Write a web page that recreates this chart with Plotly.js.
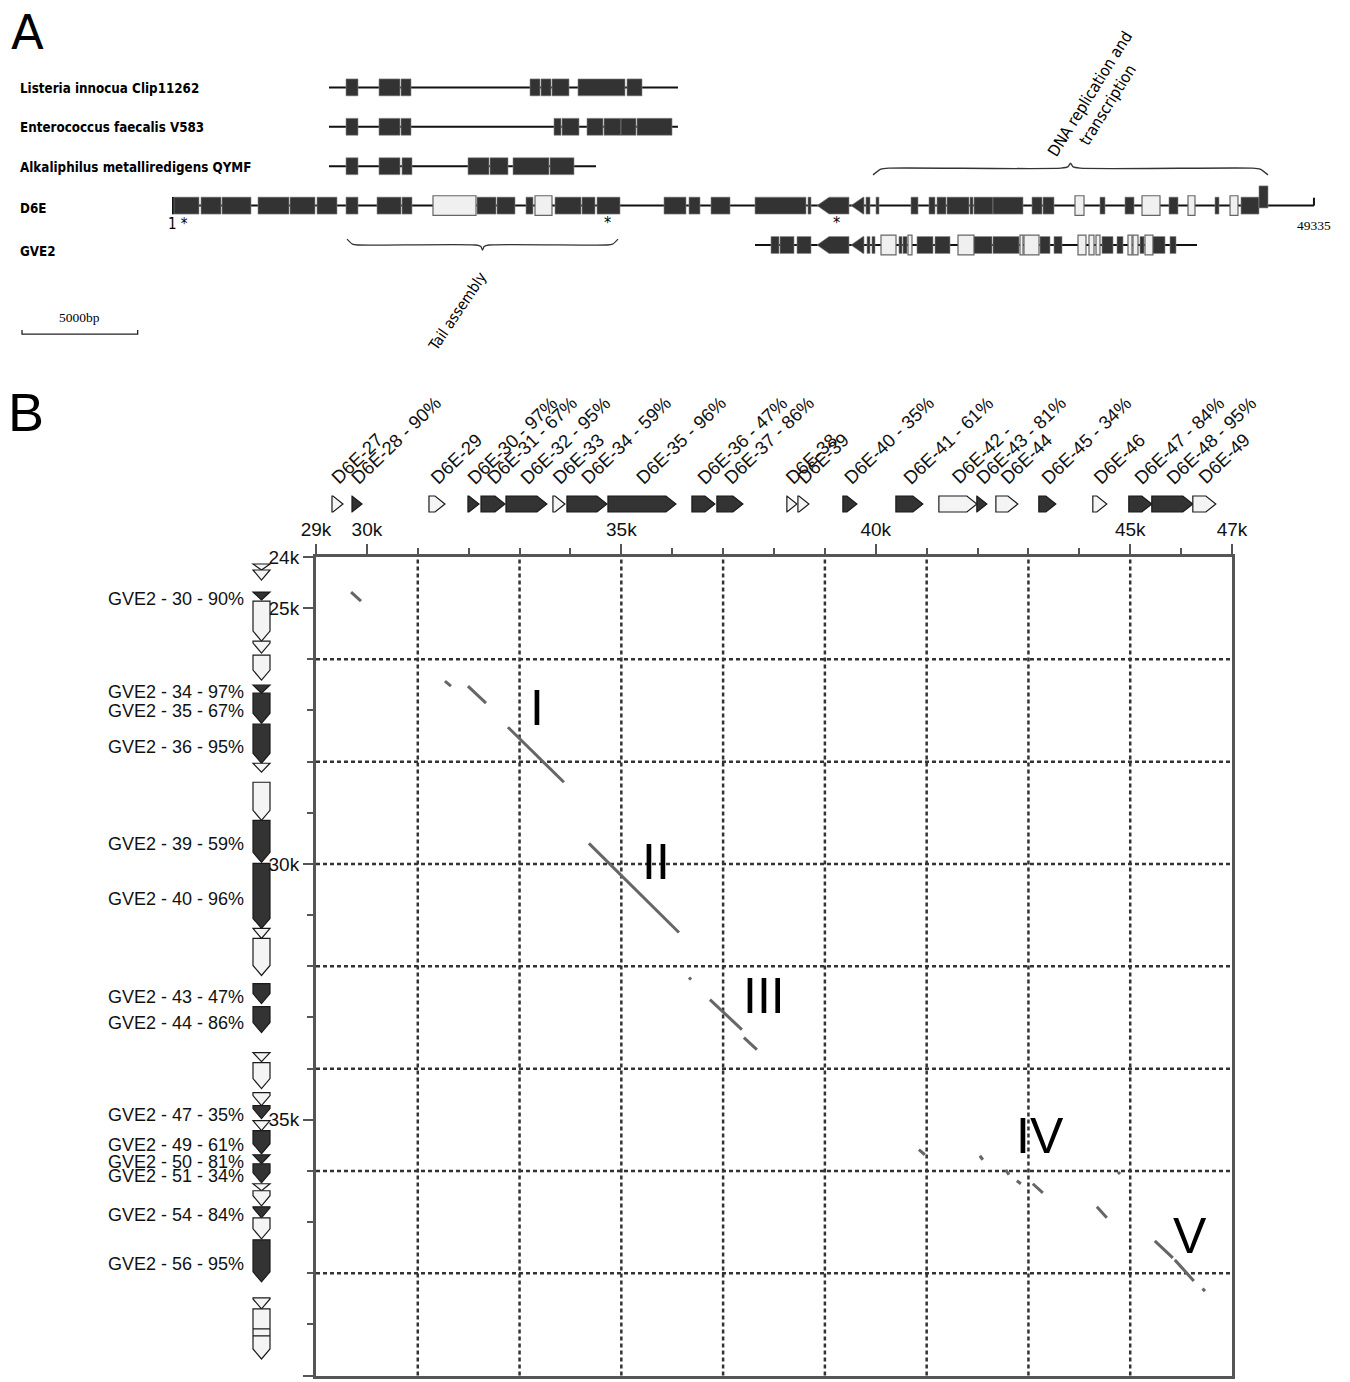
<!DOCTYPE html>
<html><head><meta charset="utf-8">
<script src="https://cdn.plot.ly/plotly-3.0.1.min.js"></script>
<style>html,body{margin:0;padding:0;background:#fff}</style>
</head><body><div id="chart" style="width:1350px;height:1382px"></div>
<script>
// ================= PANEL A DATA (bp along the D6E-scaled map) =================
const rowNames = ['Listeria innocua Clip11262', 'Enterococcus faecalis V583', 'Alkaliphilus metalliredigens QYMF', 'D6E', 'GVE2'];
const rowLineStart = [6745, 6745, 6745, 1, 25166];
const rowLineEnd = [21836, 21836, 18291, 49335, 44278];
const d6eLength = 49335;

const listeriaStart = [7481, 8907, 9859, 15437, 15912, 16388, 17512, 19631];
const listeriaEnd   = [8000, 9815, 10291, 15869, 16345, 17123, 19544, 20280];

const enteroStart = [7481, 8907, 9859, 16474, 16820, 17901, 18636, 19372, 20063];
const enteroEnd   = [8000, 9815, 10291, 16777, 17555, 18593, 19372, 20020, 21577];

const alkaStart = [7481, 8907, 9902, 12756, 13707, 14702, 16301];
const alkaEnd   = [8000, 9815, 10334, 13664, 14485, 16258, 17339];

// kinds: d = homologous block, w = unique (white), L = leftward ORF, T = tall block
const mapD6EStart = [43, 1211, 2119, 3675, 5059, 6227, 7481, 8821, 9902, 11242, 13145, 14010, 15264, 15653, 16518, 17685, 18334, 21231, 22312, 23263, 25166, 27457, 27847, 29317, 29965, 30398, 31911, 32689, 33035, 33468, 34462, 34635, 35457, 37143, 37619, 39002, 40083, 41164, 41900, 43067, 43889, 45056, 45706, 46180, 46958];
const mapD6EEnd   = [1124, 2076, 3373, 5016, 6140, 7091, 8000, 9859, 10334, 13102, 13967, 14788, 15566, 16388, 17642, 18247, 19328, 22182, 22787, 24085, 27371, 27587, 29230, 29879, 30138, 30527, 32214, 32949, 33425, 34419, 34592, 35457, 36754, 37576, 38094, 39392, 40300, 41554, 42678, 43456, 44191, 45229, 46050, 46958, 47348];
const mapD6EKind  = ['d','d','d','d','d','d','d','d','d','w','d','d','d','w','d','d','d','d','d','d','d','d','L','L','d','d','d','d','d','d','d','d','d','d','d','w','d','d','w','d','w','d','w','d','T'];

const mapGVEStart = [25858, 26247, 26982, 27847, 29317, 30010, 30225, 30614, 31392, 31565, 31781, 32170, 32949, 33943, 34635, 35457, 36624, 36797, 37489, 38094, 39132, 39608, 39911, 40170, 40819, 41294, 41510, 41813, 42029, 42374, 43110];
const mapGVEEnd   = [26203, 26852, 27587, 29230, 29879, 30138, 30355, 31263, 31522, 31738, 31954, 32862, 33597, 34635, 35413, 36581, 36754, 37446, 37922, 38440, 39478, 39824, 40083, 40646, 41078, 41467, 41727, 41986, 42374, 42894, 43370];
const mapGVEKind  = ['d','d','d','L','L','d','d','w','d','d','w','d','d','w','d','d','w','w','d','d','w','w','w','d','d','w','w','d','w','d','d'];

const braceStart = [7524, 30268];
const braceEnd   = [19242, 47348];
const braceText  = ['Tail assembly', 'DNA replication and<br>transcription'];
const asteriskPos = [18766, 28668];
const scaleBarBp = 5000;

// ================= PANEL B DATA =================
const d6eGeneStart = [29314, 29707, 31220, 31986, 32242, 32733, 33656, 33931, 34737, 36387, 36878, 38253, 38470, 39354, 40395, 41240, 41986, 42360, 43204, 44265, 44972, 45424, 46230];
const d6eGeneEnd   = [29530, 29904, 31534, 32202, 32713, 33538, 33892, 34717, 36073, 36839, 37389, 38450, 38686, 39629, 40925, 41986, 42183, 42792, 43538, 44540, 45424, 46230, 46682];
const d6eGeneLabel = ['D6E-27', 'D6E-28 - 90%', 'D6E-29', 'D6E-30 - 97%', 'D6E-31 - 67%', 'D6E-32 - 95%', 'D6E-33', 'D6E-34 - 59%', 'D6E-35 - 96%', 'D6E-36 - 47%', 'D6E-37 - 86%', 'D6E-38', 'D6E-39', 'D6E-40 - 35%', 'D6E-41 - 61%', 'D6E-42 -', 'D6E-43 - 81%', 'D6E-44', 'D6E-45 - 34%', 'D6E-46', 'D6E-47 - 84%', 'D6E-48 - 95%', 'D6E-49'];

const gveGeneStart = [24137, 24254, 24685, 24861, 25644, 25918, 26505, 26661, 27268, 28031, 28403, 29147, 29988, 31260, 31456, 32337, 32787, 33687, 33883, 34470, 34724, 35018, 35213, 35683, 35859, 36250, 36387, 36701, 36916, 37346, 38481, 38697];
const gveGeneEnd   = [24254, 24450, 24841, 25644, 25879, 26407, 26661, 27249, 28031, 28207, 29147, 29969, 31260, 31456, 32180, 32728, 33295, 33863, 34391, 34724, 34978, 35213, 35663, 35859, 36231, 36387, 36681, 36916, 37327, 38168, 38697, 39675];
const gveGeneLabel = ['', '', 'GVE2 - 30 - 90%', '', '', '', 'GVE2 - 34 - 97%', 'GVE2 - 35 - 67%', 'GVE2 - 36 - 95%', '', '', 'GVE2 - 39 - 59%', 'GVE2 - 40 - 96%', '', '', 'GVE2 - 43 - 47%', 'GVE2 - 44 - 86%', '', '', '', 'GVE2 - 47 - 35%', '', 'GVE2 - 49 - 61%', 'GVE2 - 50 - 81%', 'GVE2 - 51 - 34%', '', '', 'GVE2 - 54 - 84%', '', 'GVE2 - 56 - 95%', '', ''];
const gveInnerBoundary = [39088, 39225];

// dot-plot matches (D6E position, GVE2 position)
const matchX0 = [29690, 31534, 31986, 32772, 34363, 36330, 36741, 37409, 40847, 42045, 42556, 42772, 43086, 44344, 44760, 45483, 45876, 46420];
const matchY0 = [24685, 26427, 26524, 27327, 29597, 32220, 32650, 33393, 35585, 35703, 35977, 36192, 36250, 36700, 36020, 37366, 37738, 38300];
const matchX1 = [29884, 31652, 32340, 33872, 36132, 36370, 37369, 37664, 40965, 42104, 42615, 42851, 43283, 44540, 44800, 45837, 46250, 46470];
const matchY1 = [24861, 26524, 26857, 28403, 31339, 32260, 33237, 33628, 35683, 35781, 36074, 36250, 36427, 36916, 36060, 37699, 38149, 38350];

const regionName = ['I', 'II', 'III', 'IV', 'V'];
const regionX = [33342, 35680, 37802, 43224, 46171];
const regionY = [26955, 29969, 32571, 35311, 37268];

const xTickVals = [29000, 30000, 35000, 40000, 45000, 47000];
const xTickText = ['29k', '30k', '35k', '40k', '45k', '47k'];
const yTickVals = [24000, 25000, 30000, 35000, 40000];
const yTickText = ['24k', '25k', '30k', '35k', '40k'];
const gridX = [31000, 33000, 35000, 37000, 39000, 41000, 43000, 45000];
const gridY = [26000, 28000, 30000, 32000, 34000, 36000, 38000];

// ================= LAYOUT CONSTANTS =================
const W = 1350, H = 1382;
const px = v => v / W, py = v => 1 - v / H;
const FB = 'Liberation Sans, Arial, sans-serif';
const FA = 'DejaVu Sans Condensed, DejaVu Sans, sans-serif';
const DARK = '#333333', WHITE = '#f4f4f4';
const xDom = [px(316), px(1232)];
const yDom = [py(1375.6), py(557)];

const shapes = [];
const annotations = [];
const traces = [];

// ---- panel A ----
const rowBlocks = [
  [listeriaStart, listeriaEnd, null],
  [enteroStart, enteroEnd, null],
  [alkaStart, alkaEnd, null],
  [mapD6EStart, mapD6EEnd, mapD6EKind],
  [mapGVEStart, mapGVEEnd, mapGVEKind]
];
{
  const lx = [], ly = [];
  rowNames.forEach((n, r) => { lx.push(rowLineStart[r], rowLineEnd[r], null); ly.push(r, r, null); });
  lx.push(rowLineStart[3], rowLineStart[3], null, rowLineEnd[3], rowLineEnd[3], null);
  ly.push(3 - 0.22, 3 + 0.22, null, 3, 3 - 0.2, null);
  traces.push({type: 'scatter', mode: 'lines', x: lx, y: ly, xaxis: 'x2', yaxis: 'y2',
    line: {color: '#111', width: 2}, hoverinfo: 'skip', showlegend: false});
}
rowBlocks.forEach(([st, en, kd], r) => {
  for (let i = 0; i < st.length; i++) {
    const k = kd ? kd[i] : 'd';
    const x0 = st[i], x1 = en[i];
    if (k === 'L') {
      const h = 0.215, head = Math.min(520, x1 - x0);
      shapes.push({type: 'path', xref: 'x2', yref: 'y2', layer: 'above',
        path: `M${x0},${r}L${x0 + head},${r - h}L${x1},${r - h}L${x1},${r + h}L${x0 + head},${r + h}Z`,
        fillcolor: DARK, line: {color: '#888', width: 0.6}});
    } else if (k === 'w') {
      shapes.push({type: 'rect', xref: 'x2', yref: 'y2', layer: 'above', x0, x1, y0: r - 0.25, y1: r + 0.25,
        fillcolor: '#f0f0f0', line: {color: '#666', width: 1.2}});
    } else if (k === 'T') {
      shapes.push({type: 'rect', xref: 'x2', yref: 'y2', layer: 'above', x0, x1, y0: r - 0.5, y1: r + 0.06,
        fillcolor: DARK, line: {color: '#888', width: 0.6}});
    } else {
      shapes.push({type: 'rect', xref: 'x2', yref: 'y2', layer: 'above', x0, x1, y0: r - 0.215, y1: r + 0.215,
        fillcolor: DARK, line: {color: '#888', width: 0.6}});
    }
  }
});
rowNames.forEach((n, r) => {
  annotations.push({xref: 'paper', yref: 'y2', x: px(18), y: r, xanchor: 'left', yanchor: 'middle',
    yshift: r >= 3 ? -3 - (r - 3) * 3 : -1, text: n, showarrow: false,
    font: {family: FA, size: 13.3, color: '#000', weight: 'bold'}});
});
// braces
const braceGeom = [[3.85, 4.0, 4.13], [2.22, 2.05, 1.92]];
braceStart.forEach((s, b) => {
  const e = braceEnd[b], m = (s + e) / 2, d = (e - s) * 0.04;
  const [yE, yF, yT] = braceGeom[b];
  traces.push({type: 'scatter', mode: 'lines', xaxis: 'x2', yaxis: 'y2', hoverinfo: 'skip', showlegend: false,
    x: [s, s + d * 0.5, s + d, m - d * 0.6, m - d * 0.15, m, m + d * 0.15, m + d * 0.6, e - d, e - d * 0.5, e],
    y: [yE, yF - (yF - yE) * 0.15, yF, yF, yF + (yT - yF) * 0.3, yT, yF + (yT - yF) * 0.3, yF, yF, yF - (yF - yE) * 0.15, yE],
    line: {color: '#333', width: 1.3, shape: 'spline', smoothing: 0.6}});
});
annotations.push({xref: 'x2', yref: 'y2', x: 12323, y: 5.68, text: braceText[0], textangle: -56, showarrow: false,
  xanchor: 'center', yanchor: 'middle', font: {family: FA, size: 15, color: '#000'}});
annotations.push({xref: 'x2', yref: 'y2', x: 40050, y: 0.3, text: braceText[1], textangle: -58, showarrow: false,
  xanchor: 'center', yanchor: 'middle', font: {family: FA, size: 16, color: '#000'}});
annotations.push({xref: 'x2', yref: 'y2', x: rowLineStart[3], y: 3.47, xanchor: 'left', xshift: -7, text: '1 *', showarrow: false,
  font: {family: FA, size: 15, color: '#000'}});
asteriskPos.forEach(p => annotations.push({xref: 'x2', yref: 'y2', x: p, y: 3.42, text: '*', showarrow: false,
  xanchor: 'center', font: {family: FA, size: 16, color: '#000'}}));
annotations.push({xref: 'x2', yref: 'y2', x: d6eLength, y: 3.5, text: String(d6eLength), showarrow: false,
  xanchor: 'center', font: {family: 'Liberation Serif, serif', size: 13.5, color: '#000'}});
{
  const sx = -6529;
  traces.push({type: 'scatter', mode: 'lines', xaxis: 'x2', yaxis: 'y2', hoverinfo: 'skip', showlegend: false,
    x: [sx, sx, sx + scaleBarBp, sx + scaleBarBp], y: [6.16, 6.26, 6.26, 6.16], line: {color: '#222', width: 1.3}});
  annotations.push({xref: 'x2', yref: 'y2', x: sx + scaleBarBp / 2, y: 5.85, text: scaleBarBp + 'bp', showarrow: false,
    xanchor: 'center', font: {family: 'Liberation Serif, serif', size: 13.5, color: '#000'}});
}
annotations.push({xref: 'paper', yref: 'paper', x: px(27), y: py(32), text: 'A', showarrow: false,
  xanchor: 'center', yanchor: 'middle', font: {family: 'DejaVu Sans, sans-serif', size: 48, color: '#000'}});
annotations.push({xref: 'paper', yref: 'paper', x: px(26), y: py(412), text: 'B', showarrow: false,
  xanchor: 'center', yanchor: 'middle', font: {family: FB, size: 54, color: '#000'}});

// ---- panel B: top D6E ORFs ----
const HEAD = 196;
const yc = py(504), hh = 8 / H;
d6eGeneLabel.forEach((t, i) => {
  const x0 = d6eGeneStart[i], x1 = d6eGeneEnd[i];
  const dark = t.indexOf('%') >= 0;
  let path;
  if (x1 - x0 <= HEAD) path = `M${x0},${yc - hh}L${x1},${yc}L${x0},${yc + hh}Z`;
  else { const xb = x1 - HEAD; path = `M${x0},${yc - hh}L${xb},${yc - hh}L${x1},${yc}L${xb},${yc + hh}L${x0},${yc + hh}Z`; }
  shapes.push({type: 'path', xref: 'x', yref: 'paper', path, fillcolor: dark ? DARK : WHITE, line: {color: '#1a1a1a', width: 1.2}});
  annotations.push({xref: 'x', yref: 'paper', x: (x0 + x1) / 2, y: py(491), text: t, textangle: -44,
    xanchor: 'left', yanchor: 'bottom', xshift: -13, showarrow: false, font: {family: FB, size: 18.5, color: '#111'}});
});
// ---- panel B: left GVE2 ORFs ----
const xc = px(261.5), hw = 8.5 / W;
gveGeneLabel.forEach((t, i) => {
  const y0 = gveGeneStart[i], y1 = gveGeneEnd[i];
  const dark = t !== '';
  let path;
  if (y1 - y0 <= HEAD) path = `M${xc - hw},${y0}L${xc},${y1}L${xc + hw},${y0}Z`;
  else { const yb = y1 - HEAD; path = `M${xc - hw},${y0}L${xc - hw},${yb}L${xc},${y1}L${xc + hw},${yb}L${xc + hw},${y0}Z`; }
  shapes.push({type: 'path', xref: 'paper', yref: 'y', path, fillcolor: dark ? DARK : WHITE, line: {color: '#1a1a1a', width: 1.2}});
  if (t) annotations.push({xref: 'paper', yref: 'y', x: px(246), y: (y0 + y1) / 2, text: t, xanchor: 'right', yanchor: 'middle',
    yshift: -3, showarrow: false, font: {family: FB, size: 18, color: '#111'}});
});
gveInnerBoundary.forEach(b => shapes.push({type: 'line', xref: 'paper', yref: 'y', x0: xc - hw, x1: xc + hw, y0: b, y1: b,
  line: {color: '#1a1a1a', width: 1.2}}));
// ---- dot plot grid ----
gridX.forEach(g => shapes.push({type: 'line', xref: 'x', yref: 'paper', x0: g, x1: g, y0: yDom[0], y1: yDom[1], layer: 'below',
  line: {color: '#333', width: 2.5, dash: '4px,3px'}}));
gridY.forEach(g => shapes.push({type: 'line', xref: 'paper', yref: 'y', x0: xDom[0], x1: xDom[1], y0: g, y1: g, layer: 'below',
  line: {color: '#333', width: 2.5, dash: '4px,3px'}}));
// ---- dot plot matches ----
{
  const mx = [], my = [];
  matchX0.forEach((v, i) => { mx.push(v, matchX1[i], null); my.push(matchY0[i], matchY1[i], null); });
  traces.push({type: 'scatter', mode: 'lines', x: mx, y: my, xaxis: 'x', yaxis: 'y', hoverinfo: 'skip', showlegend: false,
    line: {color: '#666', width: 3}});
}
regionName.forEach((n, i) => annotations.push({xref: 'x', yref: 'y', x: regionX[i], y: regionY[i], text: n, showarrow: false,
  xanchor: 'center', yanchor: 'middle', font: {family: FB, size: 50, color: '#000'}}));

const axCommon = {showgrid: false, zeroline: false, showline: true, mirror: true, linecolor: '#555', linewidth: 3,
  ticks: 'outside', ticklen: 10, tickwidth: 2, tickcolor: '#555', tickfont: {family: FB, size: 19, color: '#111'}};
const layout = {
  width: W, height: H, margin: {l: 0, r: 0, t: 0, b: 0}, paper_bgcolor: '#fff', plot_bgcolor: 'rgba(0,0,0,0)',
  showlegend: false,
  xaxis: Object.assign({}, axCommon, {domain: xDom, range: [29000, 47000], side: 'top', anchor: 'y',
    tickmode: 'array', tickvals: xTickVals, ticktext: xTickText,
    minor: {dtick: 1000, tick0: 0, ticks: 'outside', ticklen: 6, tickwidth: 2, tickcolor: '#555', showgrid: false}}),
  yaxis: Object.assign({}, axCommon, {domain: yDom, range: [40000, 24000], anchor: 'x',
    tickmode: 'array', tickvals: yTickVals, ticktext: yTickText,
    minor: {dtick: 1000, tick0: 0, ticks: 'outside', ticklen: 6, tickwidth: 2, tickcolor: '#555', showgrid: false}}),
  xaxis2: {domain: [0, 1], range: [-7480.5, 50893.5], anchor: 'y2', visible: false, fixedrange: true},
  yaxis2: {domain: [py(380), 1], range: [7.426, -2.218], anchor: 'x2', visible: false, fixedrange: true},
  shapes, annotations
};
Plotly.newPlot('chart', traces, layout, {displayModeBar: false, staticPlot: true});
</script></body></html>
